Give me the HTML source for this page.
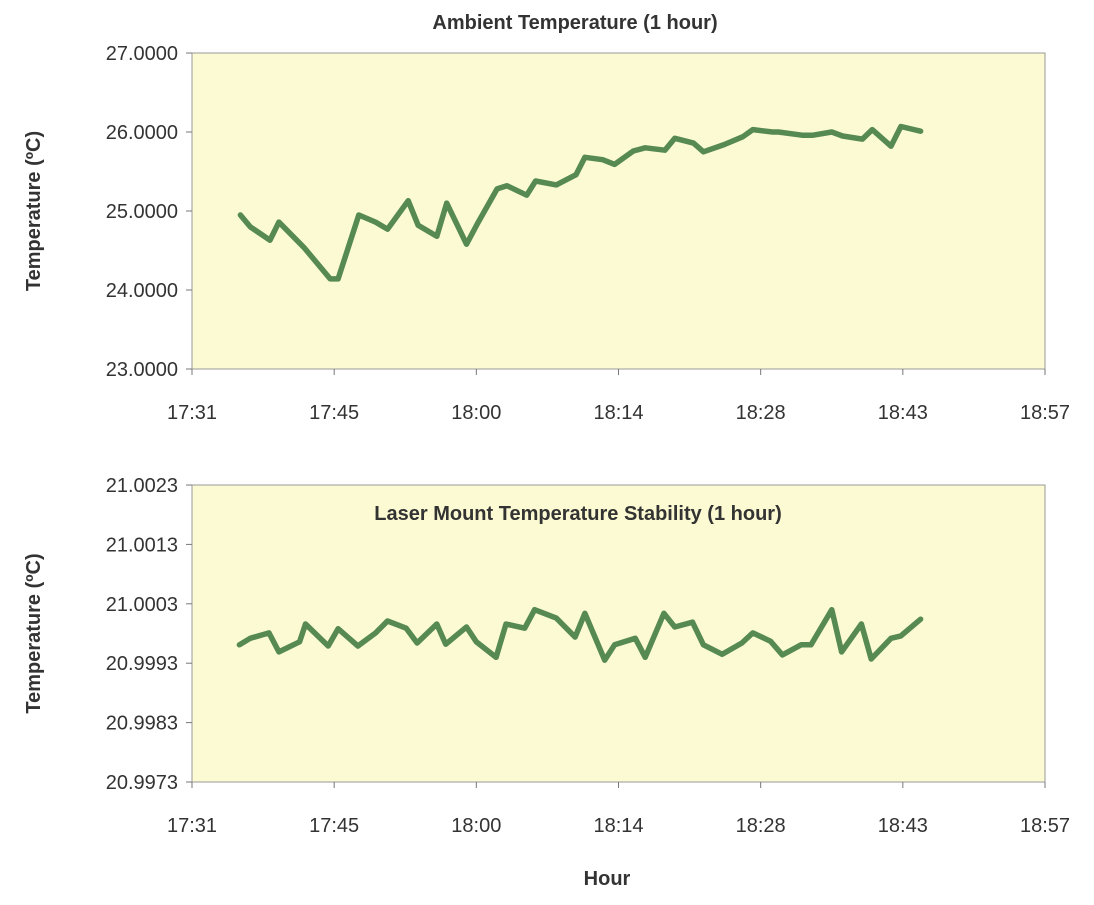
<!DOCTYPE html>
<html><head><meta charset="utf-8"><style>
body{margin:0;background:#fff;}
svg text{font-family:"Liberation Sans Narrow","Liberation Sans",sans-serif;fill:#333;}
</style></head><body>
<svg id="c" width="1094" height="900"></svg>
<script>
const tickDays=[0.73,0.74,0.75,0.76,0.77,0.78,0.79];
const tickLabels=["17:31","17:45","18:00","18:14","18:28","18:43","18:57"];
const ambTimes=[1056.1,1057.1,1059.1,1060.0,1062.6,1065.2,1066.0,1068.1,1069.8,1071.0,1073.1,1074.1,1076.0,1077.0,1079.0,1080.2,1082.1,1083.1,1085.1,1086.0,1088.1,1090.1,1091.0,1092.8,1094.0,1095.9,1097.1,1099.1,1100.1,1102.0,1103.0,1105.1,1107.0,1108.0,1110.0,1110.6,1113.0,1114.1,1116.0,1117.1,1119.1,1120.1,1122.0,1123.0,1125.0];
const ambValues=[24.95,24.80,24.63,24.86,24.53,24.14,24.14,24.95,24.86,24.77,25.13,24.82,24.68,25.10,24.58,24.86,25.28,25.32,25.20,25.38,25.33,25.46,25.68,25.65,25.59,25.76,25.80,25.77,25.92,25.86,25.75,25.84,25.94,26.03,26.00,26.00,25.96,25.96,26.00,25.95,25.91,26.03,25.82,26.07,26.01];
const ambTicks=[23,24,25,26,27];
const mntTimes=[1056.0,1057.1,1059.0,1060.0,1062.1,1062.7,1065.0,1066.0,1068.0,1069.8,1071.0,1072.9,1074.0,1076.0,1076.9,1079.0,1080.0,1082.0,1083.0,1084.9,1085.9,1088.1,1090.0,1091.0,1093.0,1094.0,1096.1,1097.1,1099.0,1100.1,1101.9,1103.0,1104.9,1106.9,1108.0,1109.8,1111.0,1112.9,1113.9,1116.0,1117.0,1119.0,1120.0,1122.0,1123.0,1125.0];
const mntValues=[20.99961,20.99972,20.99981,20.99949,20.99966,20.99996,20.99959,20.99988,20.99959,20.99981,21.00001,20.99989,20.99964,20.99996,20.99962,20.99991,20.99966,20.99940,20.99996,20.99989,21.00020,21.00006,20.99974,21.00014,20.99935,20.99961,20.99972,20.99940,21.00014,20.99991,20.99999,20.99961,20.99945,20.99964,20.99981,20.99967,20.99944,20.99961,20.99961,21.00020,20.99949,20.99996,20.99937,20.99972,20.99976,21.00004];
const mntTicks=[20.9973,20.9983,20.9993,21.0003,21.0013,21.0023];

const NS="http://www.w3.org/2000/svg";
const svg=document.getElementById('c');
function mk(t,a,txt){const e=document.createElementNS(NS,t);for(const k in a)e.setAttribute(k,a[k]);if(txt!=null)e.textContent=txt;svg.appendChild(e);return e;}
const X0=192,X1=1045;
function xs(min){const d=min/1440;return X0+(d-0.73)/(0.06)*(X1-X0);}
function draw(key,y0,y1,ticks,times,vals,dec){
  const lo=ticks[0],hi=ticks[ticks.length-1];
  const ys=v=>y1-(v-lo)/(hi-lo)*(y1-y0);
  const bg=mk('rect',{x:X0,y:y0,width:X1-X0,height:y1-y0,fill:'#fcfad2',stroke:'#999','stroke-width':1});
  
  ticks.forEach(t=>{const y=ys(t);
    const l=mk('line',{x1:X0-6,x2:X0,y1:y,y2:y,stroke:'#777'});
    
    const tx=mk('text',{x:X0-14,y:y+7,'text-anchor':'end','font-size':20},t.toFixed(dec));
    });
  tickDays.forEach((d,i)=>{const x=X0+(d-0.73)/0.06*(X1-X0);
    const l=mk('line',{x1:x,x2:x,y1:y1,y2:y1+6,stroke:'#777'});
    
    const tx=mk('text',{x:x,y:y1+50,'text-anchor':'middle','font-size':20},tickLabels[i]);
    });
  const pts=times.map((t,i)=>xs(t).toFixed(1)+','+ys(vals[i]).toFixed(1)).join(' ');
  const pl=mk('polyline',{points:pts,fill:'none',stroke:'#568a52','stroke-width':5.5,'stroke-linejoin':'round','stroke-linecap':'round'});
  
  const yt=mk('text',{x:0,y:0,'font-size':20,'font-weight':'bold','text-anchor':'middle',transform:`translate(40,${(y0+y1)/2}) rotate(-90)`},'Temperature (ºC)');
  
}
draw('ambient',53,369,ambTicks,ambTimes,ambValues,4);
draw('mount',485,782,mntTicks,mntTimes,mntValues,4);
let t=mk('text',{x:575,y:29,'text-anchor':'middle','font-size':20,'font-weight':'bold'},'Ambient Temperature  (1 hour)');

t=mk('text',{x:578,y:520,'text-anchor':'middle','font-size':20,'font-weight':'bold'},'Laser Mount Temperature Stability  (1 hour)');

t=mk('text',{x:607,y:885,'text-anchor':'middle','font-size':20,'font-weight':'bold'},'Hour');

</script>
</body></html>
